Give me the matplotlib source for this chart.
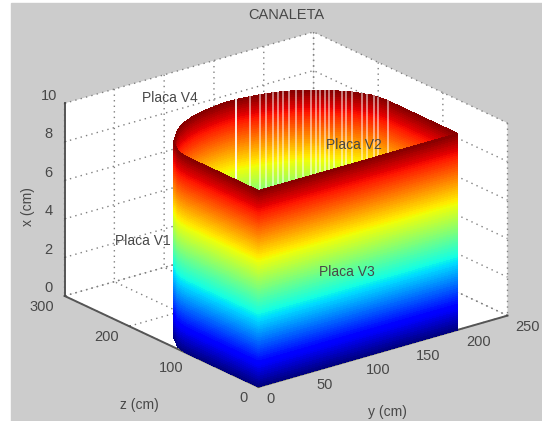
import numpy as np
import matplotlib
matplotlib.use("Agg")
import matplotlib.pyplot as plt
from mpl_toolkits.mplot3d import Axes3D

plt.rcParams['font.family'] = ['Liberation Sans', 'DejaVu Sans']

# wall outline: y (cm), z (cm)
wall_y = [0, 0, 0, 0, 1, 3, 7, 12, 19, 27, 36, 46, 57, 68, 79, 90, 100, 110, 121, 132, 143, 154, 164, 173, 181, 188, 193, 197, 199, 200, 200, 200, 200]
wall_z = [0, 50, 100, 110, 120, 130, 138, 150, 158, 168, 177, 184, 190, 194, 197, 199, 200, 199, 197, 194, 190, 184, 177, 168, 158, 150, 138, 130, 120, 110, 100, 50, 0]

# white slits in the curved plate
slit_y = [107, 120, 129, 133, 139, 143, 147, 151, 156, 161, 166, 169, 172, 175, 177, 180, 184, 186, 189, 193, 195, 197, 198, 200]
slit_z = [200, 198, 196, 194, 192, 190, 188, 186, 183, 179, 175, 172, 170, 167, 164, 160, 155, 151, 146, 137, 132, 125, 120, 108]

x_top = 10.2
x_ticks = [0, 2, 4, 6, 8, 10]
y_ticks = [0, 50, 100, 150, 200, 250]
z_ticks = [0, 100, 200, 300]

txt = '#484848'

fig = plt.figure(figsize=(5.42, 4.21), dpi=100, facecolor='white')
fig.patches.append(plt.Rectangle((11/542, 0), 531/542, 418/421, transform=fig.transFigure, color='#cccccc', zorder=-10))

ax = fig.add_axes([-0.03 + 9/542, -0.03 - 5/421, 1.06, 1.06], projection='3d', proj_type='ortho', computed_zorder=False)
ax.set_facecolor('none')
ax.view_init(elev=21.5, azim=-128)
ax.set_box_aspect((316, 315, 207), zoom=1.07)
ax.set_xlim(0, 250)
ax.set_ylim(0, 300)
ax.set_zlim(0, 10)

for a in (ax.xaxis, ax.yaxis, ax.zaxis):
    a.set_pane_color((1, 1, 1, 1))
    a.pane.set_edgecolor('none')
    a._axinfo['grid'].update(color='#808080', linestyle=(0, (1, 3)), linewidth=1.0)
    a._axinfo['tick'].update(inward_factor=0.0, outward_factor=0.06)
    a.line.set_color('#555555')
    a.line.set_linewidth(1.4)

ax.set_xticks(y_ticks)
ax.set_yticks(z_ticks)
ax.set_zticks(x_ticks)
ax.tick_params(labelsize=10.5, colors=txt)
ax.tick_params(axis='x', pad=-1)
ax.tick_params(axis='y', pad=-1)
ax.tick_params(axis='z', pad=-2)

for lab in ax.get_xticklabels():
    lab.set_ha('left')
    lab.set_va('center')
for lab in ax.get_yticklabels():
    lab.set_ha('right')
    lab.set_va('center')
for lab in ax.get_zticklabels():
    lab.set_va('bottom')

levels = np.arange(0, x_top + 0.05, 0.1)
cmap = plt.get_cmap('jet')


def wall(ys, zs, zorder):
    Y = np.tile(ys, (len(levels), 1))
    Z = np.tile(zs, (len(levels), 1))
    H = np.tile(levels, (len(ys), 1)).T
    ax.plot_surface(Y, Z, H, facecolors=cmap(H / x_top), rstride=1, cstride=1,
                    shade=False, linewidth=0, antialiased=False, zorder=zorder)


# far side first, the near plates go on top of it
wall(wall_y[2:31], wall_z[2:31], 2)
for i, s in enumerate(slit_y):
    ax.plot([s, s], [slit_z[i], slit_z[i]], [0, x_top], color='white', lw=1.3,
            alpha=0.95 if i == 0 else 0.55, zorder=3)
wall(wall_y[-3:], wall_z[-3:], 4)
wall(wall_y[:3], wall_z[:3], 5)
wall([0, 100, 200], [0, 0, 0], 6)

fig.text(286/542, 1 - 15/421, 'CANALETA', ha='center', va='center', fontsize=10.5, color=txt)
fig.text(170/542, 1 - 98/421, 'Placa V4', ha='center', va='center', fontsize=10, color=txt)
fig.text(354/542, 1 - 145/421, 'Placa V2', ha='center', va='center', fontsize=10, color=txt)
fig.text(143/542, 1 - 241/421, 'Placa V1', ha='center', va='center', fontsize=10, color=txt)
fig.text(347/542, 1 - 272/421, 'Placa V3', ha='center', va='center', fontsize=10, color=txt)
fig.text(28/542, 1 - 207/421, 'x (cm)', ha='center', va='center', rotation=90, fontsize=10, color=txt)
fig.text(139/542, 1 - 405/421, 'z (cm)', ha='center', va='center', fontsize=10, color=txt)
fig.text(387/542, 1 - 412/421, 'y (cm)', ha='center', va='center', fontsize=10, color=txt)

fig.savefig('out.png', dpi=100, facecolor=fig.get_facecolor())
